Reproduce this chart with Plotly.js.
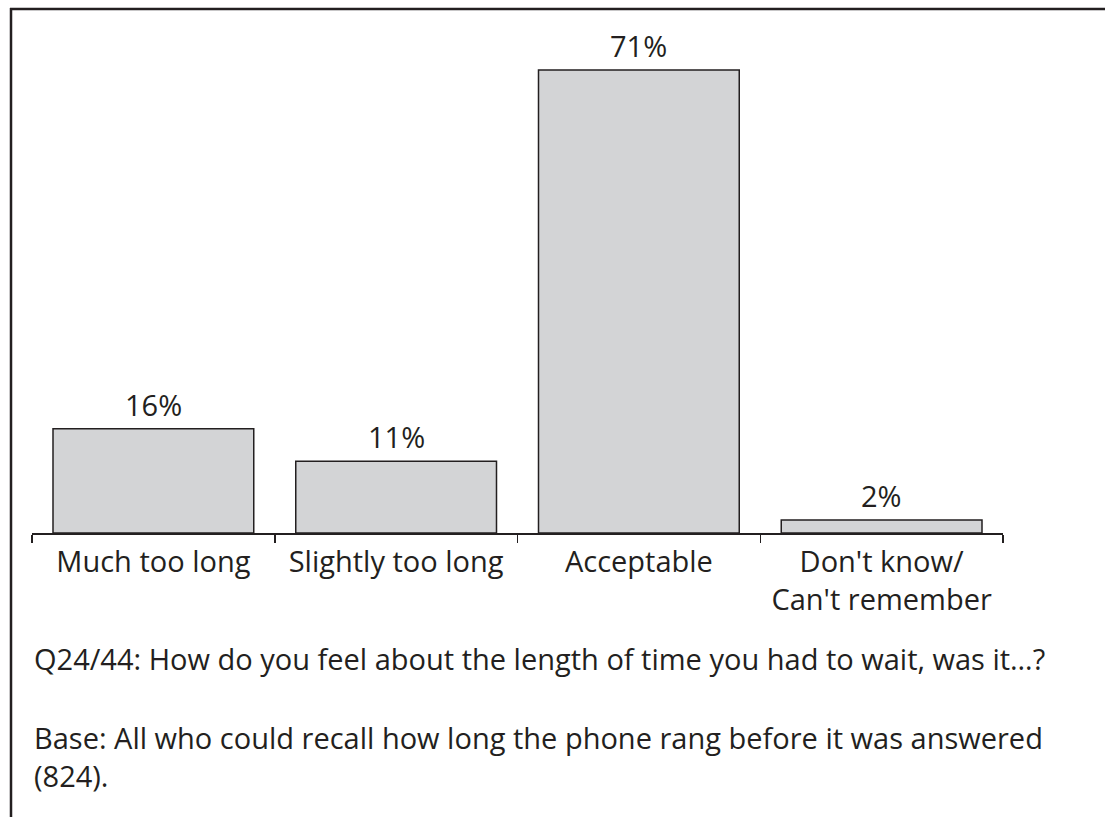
<!DOCTYPE html>
<html>
<head>
<meta charset="utf-8">
<script src="https://cdn.plot.ly/plotly-3.0.1.min.js"></script>
<style>html,body{margin:0;padding:0;background:#fff;}#chart{width:1105px;height:817px;}</style>
</head>
<body>
<div id="chart"></div>
<script>
const categories = ["Much too long", "Slightly too long", "Acceptable", "Don't know/<br>Can't remember"];
const values = [16, 11, 71, 2];
const valueLabels = ["16%", "11%", "71%", "2%"];
const questionNote = "Q24/44: How do you feel about the length of time you had to wait, was it…?";
const baseNote = "Base: All who could recall how long the phone rang before it was answered<br>(824).";

const W = 1105, H = 817;
const mL = 32, mR = 102, mT = 44, mB = 284;
const pw = W - mL - mR, ph = H - mT - mB;
const px = x => (x - mL) / pw;
const py = y => (H - mB - y) / ph;

const FONT = "Open Sans, Noto Sans, sans-serif";
const TXT = "#231f20";

const trace = {
  type: "bar",
  x: categories,
  y: values,
  marker: { color: "#d3d4d6", line: { color: "#231f20", width: 1.5 } },
  hoverinfo: "skip"
};

const annotations = categories.map((c, i) => ({
  x: c, y: values[i], xref: "x", yref: "y",
  text: valueLabels[i], showarrow: false,
  yanchor: "bottom", yshift: 3,
  font: { family: FONT, size: 29, color: TXT }
}));
annotations.push({
  xref: "paper", yref: "paper", x: px(32), y: py(658),
  xanchor: "left", yanchor: "middle", align: "left",
  text: questionNote, showarrow: false,
  font: { family: FONT, size: 29, color: TXT }
});
annotations.push({
  xref: "paper", yref: "paper", x: px(32), y: py(756),
  xanchor: "left", yanchor: "middle", align: "left",
  text: baseNote, showarrow: false,
  font: { family: FONT, size: 29, color: TXT }
});

const layout = {
  width: W, height: H,
  margin: { l: mL, r: mR, t: mT, b: mB, pad: 0 },
  paper_bgcolor: "#fff", plot_bgcolor: "#fff",
  showlegend: false,
  bargap: 0.173,
  font: { family: FONT, size: 29, color: TXT },
  xaxis: {
    type: "category",
    range: [-0.5, 3.5],
    showline: true, linecolor: "#231f20", linewidth: 1.5,
    ticks: "outside", tickson: "boundaries", ticklen: 8, tickwidth: 1.5, tickcolor: "#231f20",
    ticklabelstandoff: 3,
    tickfont: { family: FONT, size: 29, color: TXT },
    showgrid: false, zeroline: false, fixedrange: true
  },
  yaxis: {
    range: [0, 75], visible: false, showgrid: false, zeroline: false, fixedrange: true
  },
  annotations: annotations,
  shapes: [
    { type: "line", xref: "paper", yref: "paper", x0: px(10), x1: px(1105), y0: py(9), y1: py(9), line: { color: "#231f20", width: 2.5 } },
    { type: "line", xref: "paper", yref: "paper", x0: px(11), x1: px(11), y0: py(8), y1: py(817), line: { color: "#231f20", width: 2.5 } }
  ]
};

Plotly.newPlot("chart", [trace], layout, { displayModeBar: false, staticPlot: true });
</script>
</body>
</html>
